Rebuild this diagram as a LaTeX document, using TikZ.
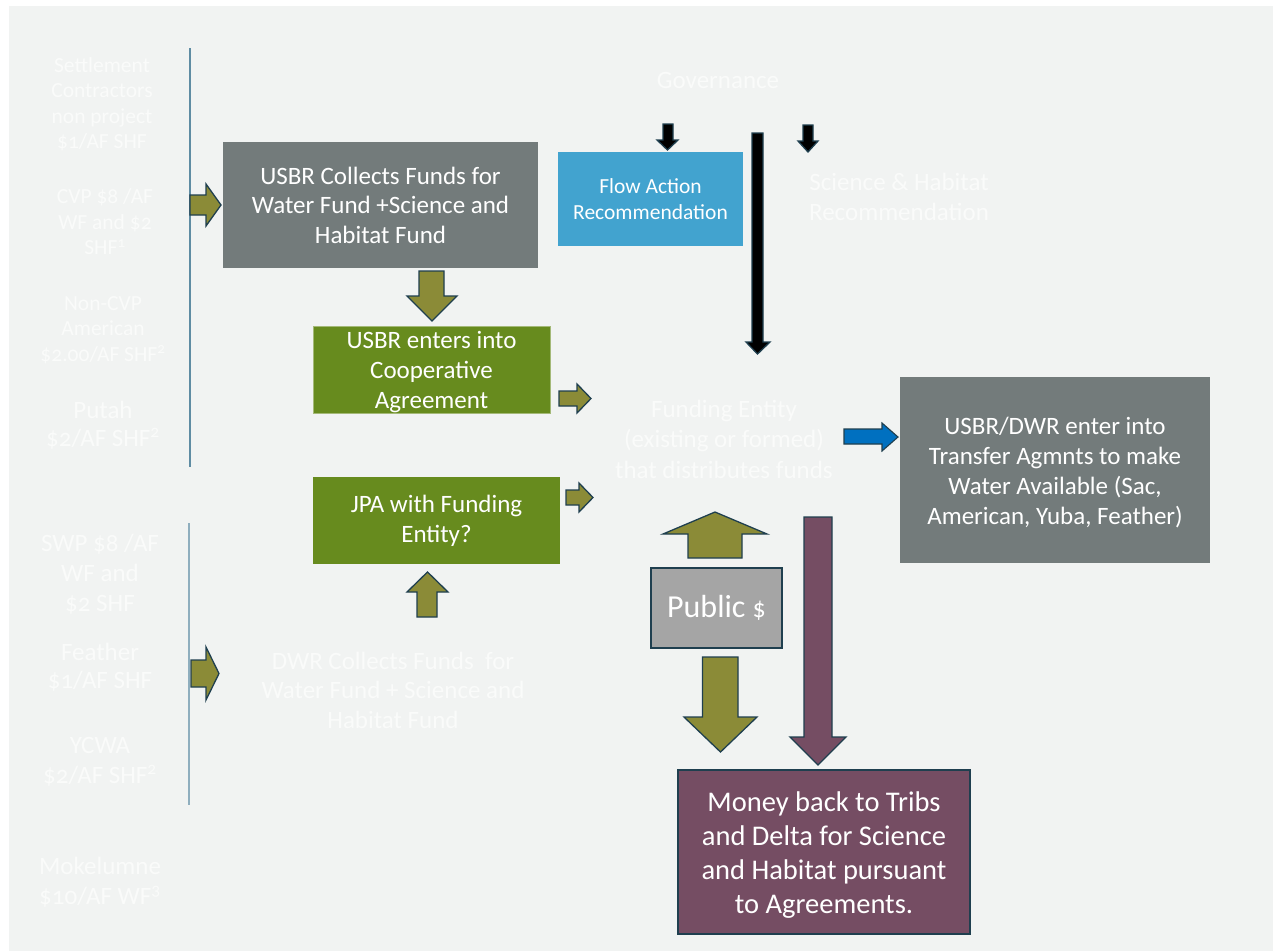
\documentclass[tikz,border=0pt]{standalone}
\usepackage{fontspec}
\setmainfont{Carlito}[Numbers=OldStyle]
\definecolor{bgc}{HTML}{F1F3F2}
\definecolor{grayb}{HTML}{737B7B}
\definecolor{greenb}{HTML}{678B1E}
\definecolor{blueb}{HTML}{42A3CF}
\definecolor{olivea}{HTML}{8B8B37}
\definecolor{edgec}{HTML}{1F3F4F}
\definecolor{purpb}{HTML}{754D63}
\definecolor{pubg}{HTML}{A5A5A5}
\definecolor{bluea}{HTML}{0070C0}
\definecolor{linec}{HTML}{5F8CA3}
\definecolor{linec2}{HTML}{8FAEBE}
\definecolor{faint}{HTML}{FAFBFA}
\begin{document}
\begin{tikzpicture}[x=1pt,y=-1pt,
  box/.style={rectangle,inner sep=0pt,text=white,align=center},
  txt/.style={inner sep=0pt,text=faint,align=center},
  fA/.style={font=\fontsize{25}{30}\selectfont},
  fS/.style={font=\fontsize{21.5}{25.5}\selectfont},
  olv/.style={fill=olivea,draw=edgec,line width=1.3pt,line join=miter},
  blk/.style={fill=black,draw=edgec,line width=1.3pt,line join=miter},
  prp/.style={fill=purpb,draw=edgec,line width=1.3pt,line join=miter},
  bla/.style={fill=bluea,draw=edgec,line width=1.1pt,line join=miter}]
\useasboundingbox (0,0) rectangle (1273,951);
\fill[white] (0,0) rectangle (1273,951);
\fill[bgc] (9,6) rectangle (1273,951);

% left column lines
\draw[linec,line width=1.5pt] (190,48) -- (190,467);
\draw[linec2,line width=1.5pt] (189,523) -- (189,805);

% left texts
\node[txt,fS] (settle) at (102,104) {Settlement\\Contractors\\non project\\\$1/AF SHF};
\node[txt,fS] (cvp) at (105,222) {CVP \$8 /AF\\WF and \$2\\SHF\textsuperscript{1}};
\node[txt,fS] (noncvp) at (103,330) {Non-CVP\\American\\\$2.00/AF SHF\textsuperscript{2}};
\node[txt,font=\fontsize{25}{28}\selectfont] (putah) at (103,425) {Putah\\\$2/AF SHF\textsuperscript{2}};
\node[txt,fA] (swp) at (100,574) {SWP \$8 /AF\\WF and\\\$2 SHF};
\node[txt,font=\fontsize{25}{28}\selectfont] (feather) at (100,667) {Feather\\\$1/AF SHF};
\node[txt,fA] (ycwa) at (100,762) {YCWA\\\$2/AF SHF\textsuperscript{2}};
\node[txt,fA] (moke) at (100,882) {Mokelumne\\\$10/AF WF\textsuperscript{3}};

% boxes
\node[box,fill=grayb,minimum width=315pt,minimum height=126pt,font=\fontsize{25}{29.5}\selectfont] (usbrc) at (380.5,205) {USBR Collects Funds for\\Water Fund +Science and\\Habitat Fund};
\node[box,fill=greenb,draw=greenb!60!white,line width=0.6pt,minimum width=237pt,minimum height=87pt] (usbre) at (431.5,369.5) {};
\node[box,fA] (usbret) at (431.5,372) {USBR enters into\\Cooperative\\Agreement};
\node[box,fill=blueb,minimum width=185pt,minimum height=94pt,font=\fontsize{21.5}{26}\selectfont] (flow) at (650.5,199) {Flow Action\\Recommendation};
\node[box,fA,fill=greenb,minimum width=247pt,minimum height=87pt] (jpa) at (436.5,520.5) {JPA with Funding\\Entity?};
\node[box,fill=pubg,draw=edgec,line width=1.3pt,minimum width=131pt,minimum height=80pt,font=\fontsize{32}{36}\selectfont] (public) at (716.5,608) {Public {\fontsize{26}{30}\selectfont\$}};
\node[box,fA,fill=grayb,minimum width=310pt,minimum height=186pt] (usbrdwr) at (1055,470) {};
\node[box,fA] (usbrdwrt) at (1055,473) {USBR/DWR enter into\\Transfer Agmnts to make\\Water Available (Sac,\\American, Yuba, Feather)};
\node[box,fill=purpb,draw=edgec,line width=1.3pt,minimum width=292pt,minimum height=164pt] (money) at (824,852) {};
\node[box,font=\fontsize{28.5}{34}\selectfont] (moneyt) at (824,855) {Money back to Tribs\\and Delta for Science\\and Habitat pursuant\\to Agreements.};

% free texts
\node[txt,fA] (gov) at (718,80) {Governance};
\node[txt,fA] (sci) at (899,197) {Science \& Habitat\\Recommendation};
\node[txt,font=\fontsize{25}{30.5}\selectfont] (fund) at (724,439) {Funding Entity\\(existing or formed)\\that distributes funds};
\node[txt,font=\fontsize{25}{29.5}\selectfont] (dwr) at (393,690) {DWR Collects Funds\ \ for\\Water Fund + Science and\\Habitat Fund};

% block arrows (olive)
\draw[olv] (190,195) -- (206,195) -- (206,184) -- (221,205) -- (206,226) -- (206,215) -- (190,215) -- cycle;
\draw[olv] (191,660) -- (206,660) -- (206,647) -- (219,673.5) -- (206,700) -- (206,687) -- (191,687) -- cycle;
\draw[olv] (419,271) -- (444,271) -- (444,296) -- (457,296) -- (432,321) -- (407,296) -- (419,296) -- cycle;
\draw[olv] (559,391) -- (577,391) -- (577,384) -- (591,398.5) -- (577,413) -- (577,406) -- (559,406) -- cycle;
\draw[olv] (566,490) -- (579,490) -- (579,483) -- (593,497.5) -- (579,512) -- (579,505) -- (566,505) -- cycle;
\draw[olv] (417,617) -- (437,617) -- (437,592) -- (448,592) -- (427.5,572) -- (407,592) -- (417,592) -- cycle;
\draw[olv] (688,558) -- (742,558) -- (742,534) -- (767,534) -- (715,512) -- (663,534) -- (688,534) -- cycle;
\draw[olv] (702.5,657) -- (738,657) -- (738,717) -- (757,717) -- (720.5,752) -- (684,717) -- (702.5,717) -- cycle;

% purple arrow
\draw[prp] (804,517) -- (832,517) -- (832,737) -- (846,737) -- (818,765) -- (790,737) -- (804,737) -- cycle;

% black arrows
\draw[blk] (663,124) -- (673,124) -- (673,140) -- (678,140) -- (667.5,150) -- (657,140) -- (663,140) -- cycle;
\draw[blk] (803,125) -- (813,125) -- (813,141) -- (818,141) -- (808,152) -- (798,141) -- (803,141) -- cycle;
\draw[blk] (752,133) -- (763,133) -- (763,342) -- (770,342) -- (757.5,354) -- (746,342) -- (752,342) -- cycle;

% blue arrow
\draw[bla] (844,429) -- (882,429) -- (882,423) -- (898,437) -- (882,451) -- (882,444) -- (844,444) -- cycle;
\end{tikzpicture}
\end{document}
